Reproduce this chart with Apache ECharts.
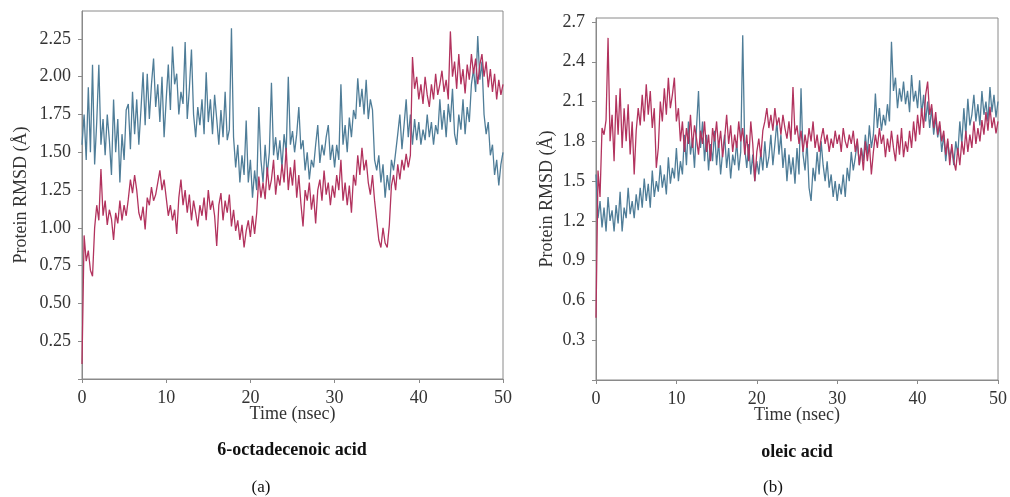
<!DOCTYPE html>
<html>
<head>
<meta charset="utf-8">
<script src="https://cdn.jsdelivr.net/npm/echarts@6.0.0/dist/echarts.min.js"></script>
<style>
  html, body { margin: 0; padding: 0; background: #fff; }
  #chart { width: 1010px; height: 497px; }
</style>
</head>
<body>
<div id="chart"></div>
<script>
// sampling grid of the trajectories (ns)
const time = Array.from({ length: 201 }, (_, i) => i * 0.25)

// (a) 6-octadecenoic acid
const leftBlue = [
  1.55,1.75,1.45,1.93,1.50,2.08,1.42,1.70,2.08,1.55,1.72,1.48,1.75,1.58,1.35,1.85,1.50,1.72,1.30,1.62,
  1.45,1.78,1.82,1.52,1.90,1.62,1.85,1.55,1.78,2.03,1.68,2.02,1.72,1.95,2.12,1.80,1.95,1.70,2.00,1.60,
  1.85,2.08,1.78,2.20,1.95,2.02,1.75,1.90,1.82,2.23,1.72,1.92,2.18,1.75,1.60,1.80,1.68,1.85,1.62,2.03,
  1.70,1.85,1.62,1.88,1.72,1.55,1.78,1.60,1.90,1.58,1.65,2.32,1.60,1.40,1.55,1.30,1.48,1.35,1.71,1.30,
  1.45,1.20,1.38,1.25,1.80,1.45,1.30,1.55,1.35,1.50,1.96,1.48,1.60,1.45,1.58,1.40,1.62,1.50,2.00,1.55,
  1.64,1.50,1.62,1.80,1.52,1.58,1.38,1.50,1.32,1.45,1.40,1.55,1.68,1.43,1.55,1.48,1.60,1.68,1.45,1.55,
  1.40,1.55,1.45,1.95,1.55,1.68,1.50,1.73,1.60,1.78,1.72,1.99,1.80,1.92,1.75,1.98,1.72,1.85,1.78,1.45,
  1.38,1.48,1.30,1.42,1.20,1.35,1.25,1.45,1.38,1.50,1.62,1.75,1.52,1.68,1.85,1.60,1.75,1.55,1.72,1.58,
  1.70,1.55,1.65,1.58,1.75,1.60,1.70,1.55,1.68,1.62,1.85,1.65,1.78,1.60,1.82,1.70,1.92,1.62,1.55,1.75,
  1.65,1.85,1.62,1.80,1.70,1.95,2.05,1.90,2.27,1.98,2.10,1.75,1.62,1.70,1.48,1.55,1.35,1.45,1.28,1.42,
  1.50
]
const leftRed = [
  0.10,0.95,0.78,0.85,0.72,0.68,1.00,1.15,1.05,1.39,1.08,1.18,1.02,1.12,1.06,0.92,1.10,1.03,1.18,1.05,
  1.15,1.08,1.19,1.32,1.23,1.35,1.25,1.10,1.05,1.14,0.99,1.20,1.15,1.27,1.18,1.22,1.30,1.38,1.25,1.32,
  1.20,1.08,1.15,1.05,1.12,0.96,1.20,1.32,1.15,1.25,1.10,1.22,1.05,1.18,1.10,1.01,1.15,1.08,1.20,1.05,
  1.25,1.12,1.18,1.08,0.88,1.15,1.23,1.05,1.18,1.10,1.22,1.01,1.12,0.98,1.05,0.92,1.02,0.87,0.98,1.05,
  0.94,1.08,0.96,1.10,1.34,1.20,1.30,1.19,1.40,1.25,1.32,1.45,1.22,1.35,1.28,1.42,1.30,1.53,1.25,1.40,
  1.28,1.45,1.20,1.35,1.16,1.01,1.25,1.18,1.30,1.12,1.22,1.03,1.25,1.32,1.18,1.38,1.22,1.30,1.15,1.28,
  1.20,1.35,1.25,1.45,1.18,1.30,1.15,1.28,1.10,1.35,1.28,1.48,1.35,1.53,1.38,1.45,1.30,1.22,1.35,1.18,
  1.05,0.92,0.87,1.00,0.90,0.87,1.02,1.28,1.35,1.25,1.42,1.32,1.45,1.38,1.49,1.40,1.48,2.13,1.92,2.00,
  1.85,1.95,1.82,2.00,1.88,1.80,1.95,1.85,2.02,1.88,1.95,2.04,1.90,1.98,1.85,2.30,2.00,2.10,1.92,2.15,
  1.95,2.05,1.89,2.08,1.98,2.15,2.02,2.12,1.95,2.08,2.15,2.00,2.10,1.93,2.05,1.90,2.02,1.85,1.98,1.88,
  1.95
]

// (b) oleic acid
const rightBlue = [
  1.55,1.22,1.35,1.15,1.30,1.12,1.38,1.20,1.28,1.12,1.32,1.18,1.42,1.12,1.30,1.22,1.45,1.25,1.35,1.22,
  1.40,1.28,1.45,1.30,1.52,1.35,1.48,1.30,1.58,1.38,1.50,1.42,1.62,1.45,1.55,1.40,1.68,1.48,1.60,1.52,
  1.75,1.50,1.65,1.55,1.85,1.62,1.95,1.70,1.82,1.60,1.90,2.18,1.75,1.95,1.65,1.85,1.58,1.78,1.65,1.88,
  1.62,1.80,1.55,1.72,1.85,1.60,1.75,1.52,1.70,1.62,1.80,1.58,1.72,2.60,1.75,1.60,1.78,1.55,1.70,1.50,
  1.65,1.55,1.72,1.58,1.80,1.60,1.68,1.85,1.62,1.78,1.95,1.70,1.85,1.60,1.75,1.50,1.70,1.55,1.68,1.48,
  1.75,1.55,2.20,1.70,1.58,1.80,1.45,1.35,1.60,1.50,1.72,1.55,1.80,1.62,1.50,1.65,1.45,1.55,1.38,1.50,
  1.35,1.48,1.40,1.55,1.38,1.60,1.50,1.72,1.58,1.68,1.80,1.62,1.75,1.65,1.85,1.70,1.92,1.75,1.85,2.16,
  1.90,2.05,1.88,2.00,1.92,2.08,1.95,2.55,2.18,2.28,2.05,2.20,2.10,2.25,2.08,2.18,2.02,2.30,2.10,2.18,
  2.05,2.26,2.00,2.15,1.95,2.10,1.90,2.05,1.85,1.98,1.83,1.92,1.72,1.85,1.65,1.80,1.68,1.75,1.62,1.80,
  1.70,1.95,1.78,2.05,1.85,2.12,1.92,2.00,2.15,1.95,2.08,1.92,2.18,2.00,2.10,1.95,2.21,2.02,2.15,1.98,
  2.10
]
const rightRed = [
  0.47,1.58,1.38,1.90,1.85,1.96,2.58,1.80,2.00,1.65,2.15,1.85,2.20,1.75,2.05,1.80,2.08,1.70,1.95,1.55,
  1.88,2.05,1.92,2.15,1.95,2.23,2.00,2.18,1.90,2.05,1.60,1.75,2.10,1.95,2.20,2.00,2.28,2.05,2.15,2.28,
  1.95,2.05,1.80,1.95,1.72,1.90,1.78,2.00,1.75,1.92,1.82,1.70,1.88,1.78,1.95,1.72,1.85,1.65,1.90,1.80,
  1.95,1.75,1.88,1.68,1.82,2.00,1.78,1.92,1.72,1.85,1.75,1.95,1.80,1.90,1.70,1.85,1.65,1.95,1.78,1.50,
  1.72,1.82,1.68,1.88,1.95,2.05,1.90,2.00,1.88,2.05,1.92,1.98,1.85,2.00,1.90,1.82,1.95,1.80,2.21,1.85,
  1.92,1.78,1.88,1.72,1.85,1.75,1.90,1.80,1.95,1.75,1.85,1.72,1.82,1.90,1.78,1.85,1.72,1.82,1.75,1.88,
  1.78,1.85,1.72,1.90,1.80,1.75,1.85,1.78,1.88,1.72,1.82,1.62,1.75,1.58,1.80,1.65,1.78,1.55,1.72,1.85,
  1.75,1.90,1.78,1.85,1.68,1.82,1.72,1.88,1.75,1.65,1.85,1.70,1.90,1.68,1.80,1.72,1.88,1.75,1.95,1.80,
  2.00,1.85,2.05,1.90,2.15,2.25,2.00,2.08,1.90,2.02,1.85,1.95,1.80,1.88,1.70,1.82,1.62,1.78,1.65,1.58,
  1.75,1.62,1.80,1.70,1.88,1.72,1.85,1.75,1.95,1.78,1.90,1.80,1.96,1.85,2.02,1.88,2.06,1.90,1.98,1.86,
  1.95
]

const BLUE = '#4f7d98'
const RED = '#b2335e'
const FONT = 'Liberation Serif'
const AXIS = '#8a8a8a'
const TEXT = '#333'

const pairs = (vals) => vals.map((v, i) => [time[i], v])

function xAxis(gridIndex) {
  return {
    gridIndex,
    type: 'value',
    min: 0,
    max: 50,
    interval: 10,
    name: 'Time (nsec)',
    nameLocation: 'middle',
    nameGap: 26,
    nameMoveOverlap: false,
    nameTextStyle: { fontFamily: FONT, fontSize: 18, color: TEXT },
    axisLine: { lineStyle: { color: AXIS } },
    axisTick: { show: true, length: 4, lineStyle: { color: AXIS } },
    axisLabel: { fontFamily: FONT, fontSize: 18, color: TEXT, margin: 10 },
    splitLine: { show: false },
  }
}

function yAxis(gridIndex, max, interval, digits, gap) {
  return {
    gridIndex,
    type: 'value',
    min: 0,
    max,
    interval,
    name: 'Protein RMSD (Å)',
    nameLocation: 'middle',
    nameGap: gap,
    nameMoveOverlap: false,
    nameTextStyle: { fontFamily: FONT, fontSize: 18, color: TEXT },
    axisLine: { show: true, lineStyle: { color: AXIS } },
    axisTick: { show: true, length: 4, lineStyle: { color: AXIS } },
    axisLabel: {
      fontFamily: FONT,
      fontSize: 18,
      color: TEXT,
      margin: 11,
      showMaxLabel: false,
      formatter: (v) => (v === 0 ? '' : v.toFixed(digits)),
    },
    splitLine: { show: false },
  }
}

function line(idx, vals, color) {
  return {
    type: 'line',
    xAxisIndex: idx,
    yAxisIndex: idx,
    data: pairs(vals),
    showSymbol: false,
    lineStyle: { color, width: 1.3 },
    itemStyle: { color },
  }
}

const chart = echarts.init(document.getElementById('chart'), null, { renderer: 'canvas' })
chart.setOption({
  animation: false,
  backgroundColor: '#fff',
  grid: [
    { left: 82, top: 11, width: 421, height: 368, show: true, borderColor: AXIS, borderWidth: 1, backgroundColor: 'transparent' },
    { left: 596, top: 18, width: 403, height: 362, show: true, borderColor: AXIS, borderWidth: 1, backgroundColor: 'transparent' },
  ],
  xAxis: [xAxis(0), xAxis(1)],
  yAxis: [yAxis(0, 2.435, 0.25, 2, 52), yAxis(1, 2.73, 0.3, 1, 40)],
  series: [
    line(0, leftBlue, BLUE),
    line(0, leftRed, RED),
    line(1, rightBlue, BLUE),
    line(1, rightRed, RED),
  ],
  graphic: [
    { type: 'text', x: 292, y: 441, style: { text: '6-octadecenoic acid', fill: '#111', font: 'bold 18px "Liberation Serif"', align: 'center' } },
    { type: 'text', x: 797, y: 443, style: { text: 'oleic acid', fill: '#111', font: 'bold 18px "Liberation Serif"', align: 'center' } },
    { type: 'text', x: 261, y: 479, style: { text: '(a)', fill: '#111', font: '17px "Liberation Serif"', align: 'center' } },
    { type: 'text', x: 773, y: 479, style: { text: '(b)', fill: '#111', font: '17px "Liberation Serif"', align: 'center' } },
  ],
})
</script>
</body>
</html>
